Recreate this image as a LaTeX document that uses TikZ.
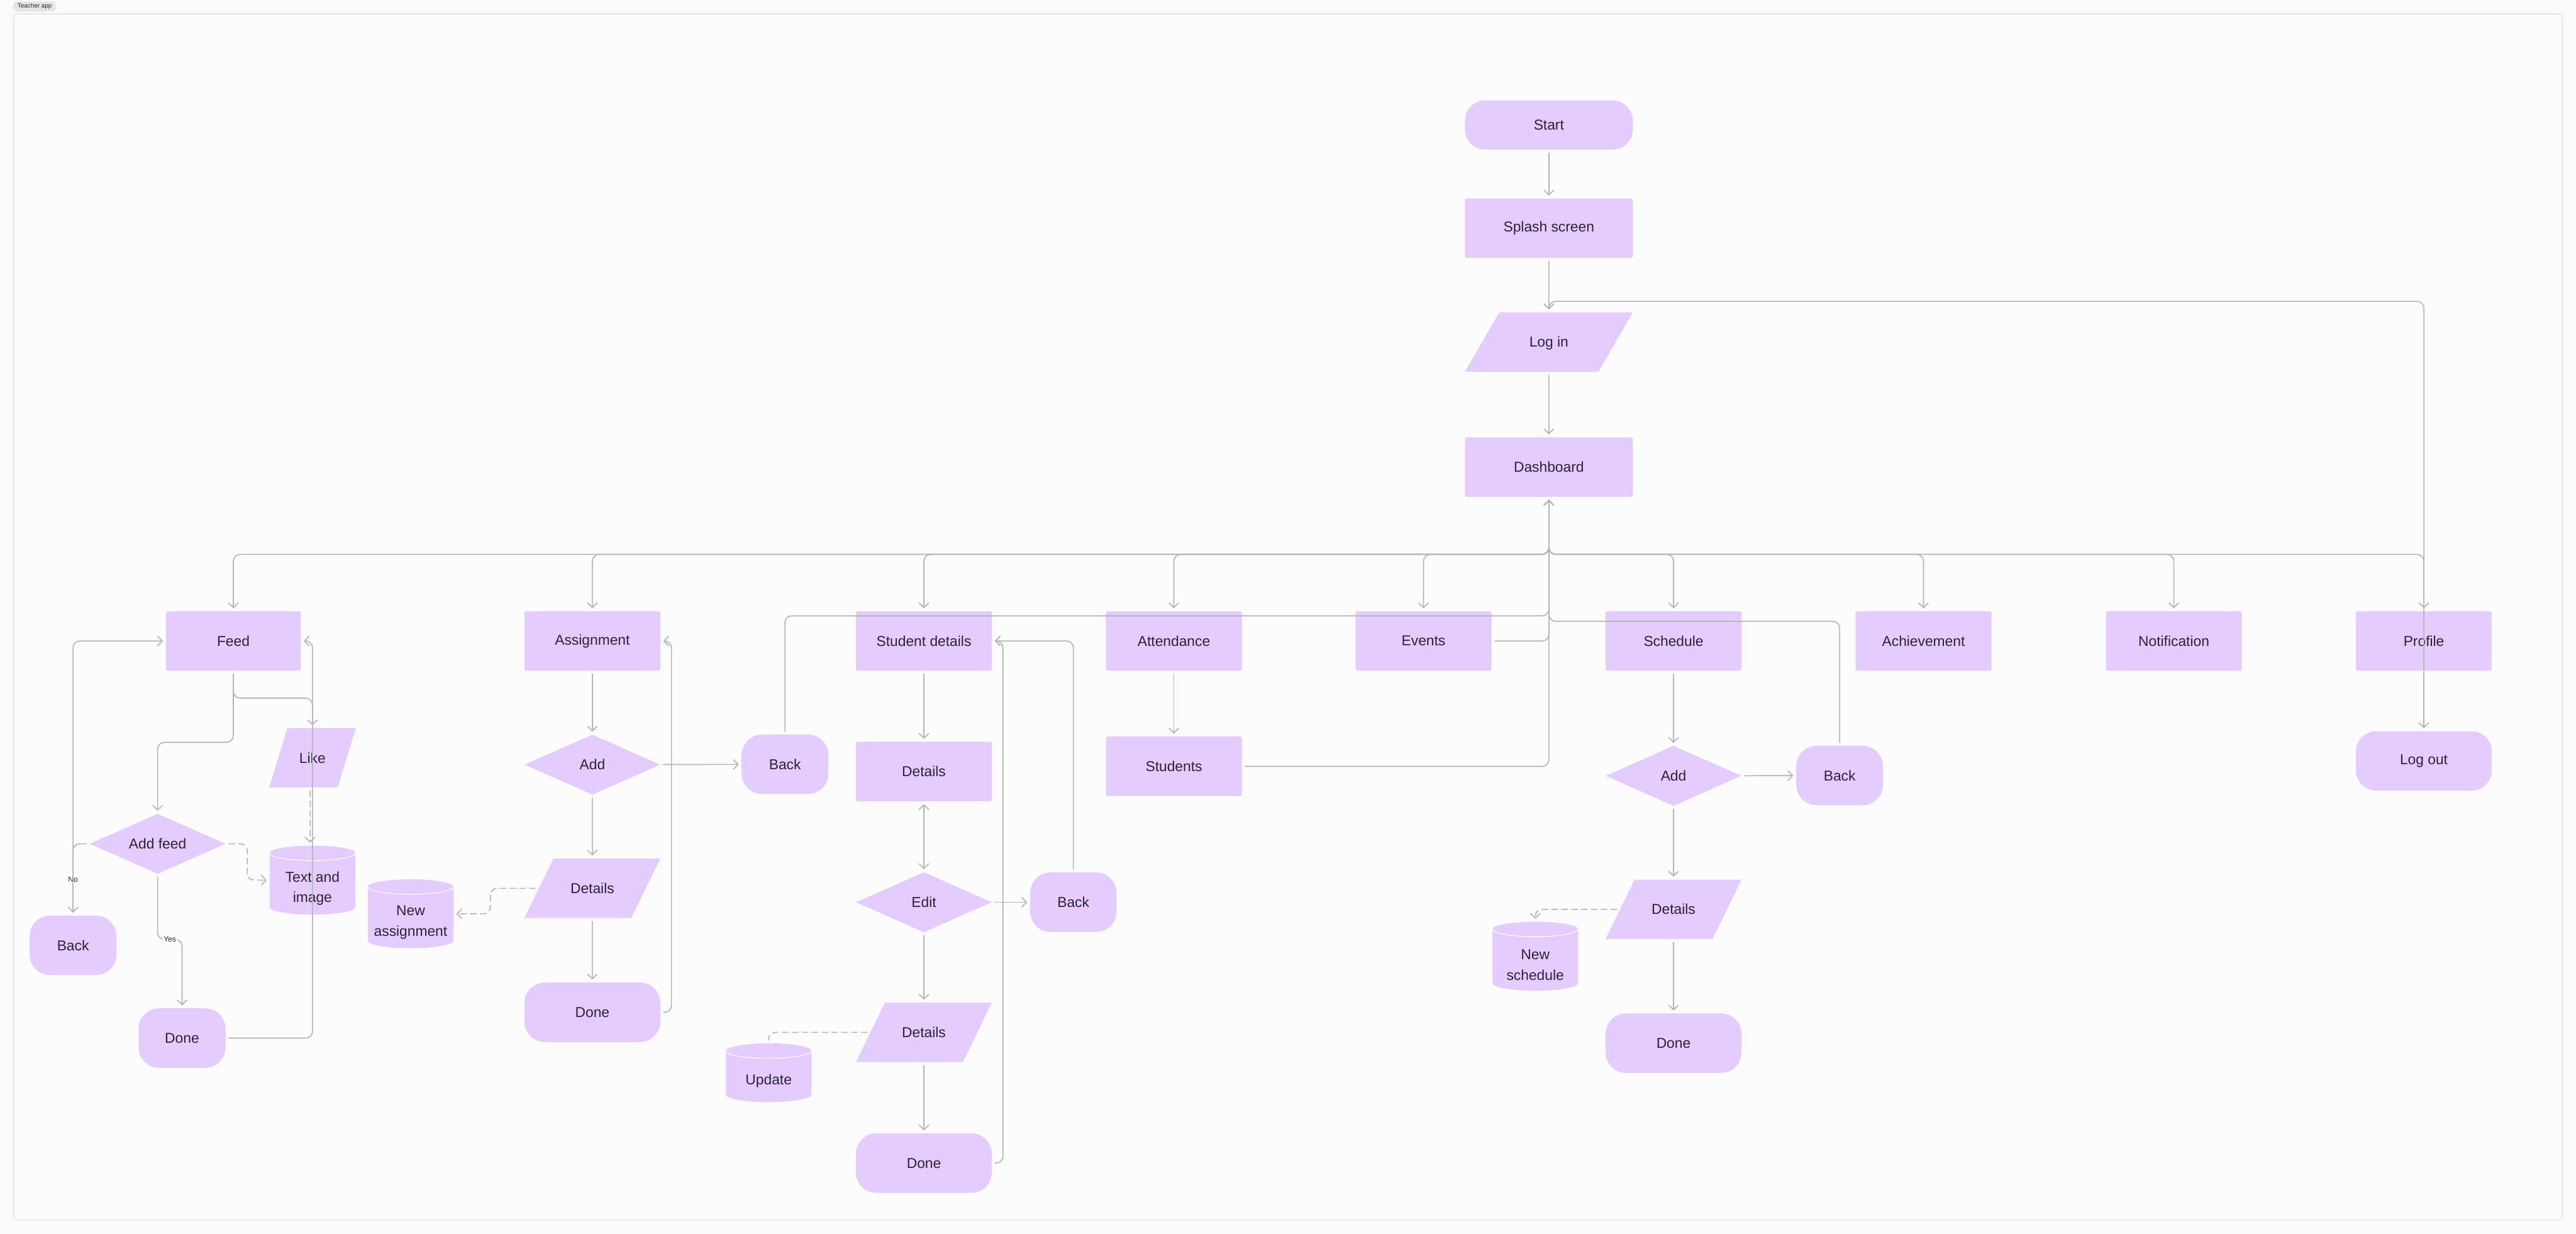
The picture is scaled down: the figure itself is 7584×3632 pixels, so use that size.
\documentclass[tikz,border=0pt]{standalone}
\usepackage{fontspec}
\setmainfont{Liberation Sans}
\usetikzlibrary{arrows.meta,shapes.geometric}
\definecolor{lilac}{HTML}{E4CCFF}
\definecolor{ink}{HTML}{2B2233}
\definecolor{wire}{HTML}{B3B3B3}
\definecolor{paper}{HTML}{FAFAFA}
\definecolor{sheet}{HTML}{FCFCFC}
\definecolor{rim}{HTML}{E3E3E3}
\definecolor{tagfill}{HTML}{E6E6E6}
\newcommand{\capgap}{\rule{0pt}{0.8cm}}
\begin{document}
\begin{tikzpicture}[x=0.01cm, y=-0.01cm, >={Straight Barb[length=0.14cm,width=0.29cm]},
  base/.style={font=\fontsize{12}{17}\selectfont, text=ink, inner sep=0pt, align=center},
  box/.style={base, rectangle, fill=lilac, rounded corners=0.05cm, minimum width=4cm, minimum height=1.75cm},
  term/.style={box, rounded corners=0.6cm},
  choice/.style={base, diamond, fill=lilac, aspect=2.25, minimum width=4cm, minimum height=1.77cm},
  io/.style 2 args={base, trapezium, trapezium left angle=#1, trapezium right angle=#2, trapezium stretches body, fill=lilac, text height=1.025cm, text depth=0.725cm, minimum width=4cm},
  store/.style={base, fill=sheet, minimum width=2.52cm, minimum height=2.03cm,
    path picture={
      \fill[lilac] ([yshift=-0.22cm]path picture bounding box.north west)
        -- ([yshift=0.22cm]path picture bounding box.south west)
        arc[start angle=180, end angle=360, x radius=1.26cm, y radius=0.22cm]
        -- ([yshift=-0.22cm]path picture bounding box.north east)
        arc[start angle=0, end angle=180, x radius=1.26cm, y radius=0.22cm] -- cycle;
      \draw[white, line width=0.02cm] ([yshift=-0.22cm]path picture bounding box.north west)
        arc[start angle=180, end angle=360, x radius=1.26cm, y radius=0.22cm];}},
  conn/.style={draw=wire, line width=0.03cm, rounded corners=0.2cm, shorten >=0.08cm, shorten <=0.08cm},
  link/.style={conn, ->},
  hint/.style={conn, dash pattern=on 0.19cm off 0.1cm},
  lbl/.style={font=\fontsize{6.3}{7}\selectfont, text=ink, fill=sheet, inner sep=0.04cm},
  tag/.style={font=\fontsize{5.2}{6}\selectfont, text=ink, fill=tagfill, draw=gray!70, dotted, rounded corners=0.08cm, minimum width=1.23cm, minimum height=0.27cm, inner sep=0pt}]

  \useasboundingbox (0,0) rectangle (7584,3632);
  \fill[paper] (0,0) rectangle (7584,3632);
  \draw[rim, fill=sheet, line width=0.025cm, rounded corners=0.1cm] (41,41) rectangle (7543,3591);
  \node[tag] (title) at (102,19) {Teacher app};

  \node[term, minimum width=4.94cm, minimum height=1.45cm] (Start) at (4560,368) {Start};
  \node[box, minimum width=4.94cm] (Splash) at (4560,672) {Splash screen};
  \node[io={60}{120}, minimum width=4.94cm] (LogIn) at (4560,1007) {Log in};
  \node[box, minimum width=4.94cm] (Dash) at (4560,1375) {Dashboard};

  \node[box, minimum width=3.97cm] (Feed) at (687,1887) {Feed};
  \node[box] (Assign) at (1744,1887) {Assignment};
  \node[box] (SD) at (2720,1887) {Student details};
  \node[box] (Att) at (3456,1887) {Attendance};
  \node[box] (Events) at (4191,1887) {Events};
  \node[box] (Sched) at (4927,1887) {Schedule};
  \node[box] (Achieve) at (5663,1887) {Achievement};
  \node[box] (Notif) at (6400,1887) {Notification};
  \node[box] (Profile) at (7136,1887) {Profile};

  \node[io={73}{107}, minimum width=2.55cm] (Like) at (920,2231) {Like};
  \node[choice] (AddFeed) at (464,2484) {Add feed};
  \node[store] (TextImg) at (920,2591) {\capgap Text and\\image};
  \node[term, minimum width=2.55cm] (BackF) at (215,2783) {Back};
  \node[term, minimum width=2.56cm] (DoneF) at (536,3056) {Done};

  \node[choice] (AddA) at (1744,2251) {Add};
  \node[io={64}{116}] (DetA) at (1744,2615) {Details};
  \node[term] (DoneA) at (1744,2980) {Done};
  \node[term, minimum width=2.55cm] (BackA) at (2311,2250) {Back};
  \node[store] (NewA) at (1209,2690) {\capgap New\\assignment};

  \node[box] (DetS) at (2720,2271) {Details};
  \node[choice] (Edit) at (2720,2656) {Edit};
  \node[io={64}{116}] (DetP) at (2720,3039) {Details};
  \node[term] (DoneS) at (2720,3424) {Done};
  \node[term, minimum width=2.54cm] (BackS) at (3160,2656) {Back};
  \node[store, minimum height=1.73cm] (Update) at (2263,3158) {\capgap Update};

  \node[box] (Students) at (3456,2256) {Students};

  \node[choice] (AddS) at (4927,2284) {Add};
  \node[term, minimum width=2.55cm] (BackSc) at (5416,2283) {Back};
  \node[io={64}{116}] (DetSc) at (4927,2677) {Details};
  \node[term] (DoneSc) at (4927,3071) {Done};
  \node[store] (NewS) at (4520,2815) {\capgap New\\schedule};

  \node[term] (LogOut) at (7136,2240) {Log out};

  \draw[link] (Start) -- (Splash);
  \draw[link] (Splash) -- (LogIn);
  \draw[link] (LogIn) -- (Dash);
  \foreach \n in {Feed,Assign,SD,Att,Events,Sched,Achieve,Notif,Profile}
    \draw[link] (Dash.south) -- (Dash.south |- 0,1632) -| (\n.north);
  \draw[link] (LogOut.north) |- (LogIn.north |- 0,887) -- (LogIn.north);

  \draw[link] (Feed.south) -- ++(0,80) -| (Like.north);
  \draw[link] (Feed.south) -- ++(0,210) -| (AddFeed.north);
  \draw[link] (AddFeed.west) -| node[lbl, pos=0.75] {No} (BackF.north);
  \draw[link] (BackF.north) |- (Feed.west);
  \draw[link] (AddFeed.south) -- ++(0,192) -| node[lbl, pos=0.25] {Yes} (DoneF.north);
  \draw[link] (DoneF.east) -| (Like.center |- Feed.east) -- (Feed.east);
  \draw[link, hint] (AddFeed.east) -- ++(63,0) |- (TextImg.west);
  \draw[link, hint] ([xshift=-0.07cm]Like.south) -- ([xshift=-0.07cm]TextImg.north);

  \draw[link] (Assign) -- (AddA);
  \draw[link] (AddA) -- (DetA);
  \draw[link] (DetA) -- (DoneA);
  \draw[link] (AddA) -- (BackA);
  \draw[link] (DoneA.east) -- ++(32,0) |- (Assign.east);
  \draw[link] (BackA.north) |- (Dash.south |- 0,1813) -- (Dash.south);
  \draw[link, hint] (DetA.west) -- ++(-142,0) |- (NewA.east);

  \draw[link] (SD) -- (DetS);
  \draw[<->, conn] (DetS) -- (Edit);
  \draw[link] (Edit) -- (DetP);
  \draw[link] (DetP) -- (DoneS);
  \draw[link] (Edit) -- (BackS);
  \draw[link] (BackS.north) |- (SD.east);
  \draw[link] (DoneS.east) -- ++(32,0) |- (SD.east);
  \draw[hint] (DetP.west) -| (Update.north);

  \draw[link] (Att) -- (Students);
  \draw[link] (Students.east) -| (Dash.south);
  \draw[link] (Events.east) -| (Dash.south);

  \draw[link] (Sched) -- (AddS);
  \draw[link] (AddS) -- (BackSc);
  \draw[link] (AddS) -- (DetSc);
  \draw[link] (DetSc) -- (DoneSc);
  \draw[link] (BackSc.north) |- (Dash.south |- 0,1829) -- (Dash.south);
  \draw[link, hint] (DetSc.west) -| (NewS.north);

  \draw[link] (Profile) -- (LogOut);
\end{tikzpicture}
\end{document}
